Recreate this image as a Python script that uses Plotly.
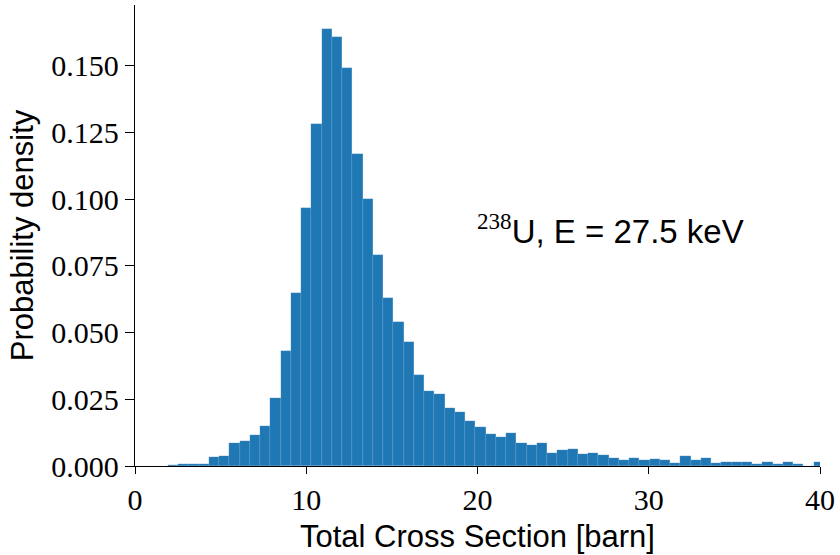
import plotly.graph_objects as go

# Histogram bins (barn): first edge and constant width
bin_start = 1.92
bin_width = 0.5985
density = [
    0.0003, 0.0008, 0.0009, 0.0006, 0.0035, 0.0039, 0.0085, 0.0094, 0.0116, 0.0150,
    0.0256, 0.0431, 0.0649, 0.0965, 0.1281, 0.1636, 0.1608, 0.1492, 0.1170, 0.0999,
    0.0791, 0.0628, 0.0540, 0.0466, 0.0340, 0.0282, 0.0268, 0.0218, 0.0203, 0.0167,
    0.0146, 0.0120, 0.0109, 0.0122, 0.0087, 0.0079, 0.0085, 0.0050, 0.0059, 0.0065,
    0.0046, 0.0050, 0.0040, 0.0029, 0.0024, 0.0031, 0.0024, 0.0027, 0.0024, 0.0011,
    0.0039, 0.0021, 0.0029, 0.0010, 0.0016, 0.0014, 0.0016, 0.0009, 0.0014, 0.0009,
    0.0014, 0.0009, 0.0001, 0.0015,
]
centers = [bin_start + bin_width * (i + 0.5) for i in range(len(density))]

x_ticks = [0, 10, 20, 30, 40]
y_ticks = [0.0, 0.025, 0.05, 0.075, 0.1, 0.125, 0.15]

fig = go.Figure()
fig.add_trace(go.Bar(
    x=centers, y=density, width=bin_width,
    marker=dict(color="#1f77b4", line=dict(width=0.25, color="rgba(150,190,222,0.7)")),
))

serif = "Liberation Serif, DejaVu Serif, serif"
sans = "Liberation Sans, DejaVu Sans, sans-serif"

fig.update_layout(
    width=840, height=555,
    margin=dict(l=135, r=15, t=5, b=89),
    plot_bgcolor="white", paper_bgcolor="white",
    showlegend=False, bargap=0,
    xaxis=dict(
        range=[0, 40], tickvals=x_ticks, ticktext=[str(t) for t in x_ticks],
        showline=True, linecolor="black", linewidth=1.3, mirror=False,
        ticks="outside", ticklen=7, tickcolor="black", tickwidth=1.2,
        showgrid=False, zeroline=False,
        tickfont=dict(family=serif, size=30, color="black"),
        title=dict(text="Total Cross Section [barn]", font=dict(family=sans, size=31, color="black"), standoff=10),
    ),
    yaxis=dict(
        range=[0, 0.1727], tickvals=y_ticks, tickformat=".3f",
        showline=True, linecolor="black", linewidth=1.3,
        ticks="outside", ticklen=9, tickcolor="black", tickwidth=1.2,
        showgrid=False, zeroline=False,
        tickfont=dict(family=serif, size=30, color="black"),
        title=dict(text="Probability density", font=dict(family=sans, size=31, color="black"), standoff=8),
    ),
    annotations=[dict(
        x=0.497, y=0.515, xref="paper", yref="paper", xanchor="left", yanchor="middle",
        text="<sup><span style='font-family:Liberation Serif'>238</span></sup>U, E = 27.5 keV",
        showarrow=False,
        font=dict(family=sans, size=33, color="black"),
    )],
)

fig.write_html("out.html")
